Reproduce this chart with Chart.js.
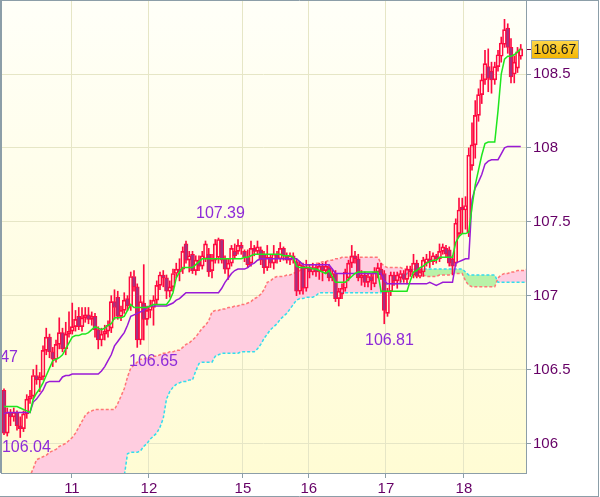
<!DOCTYPE html>
<html>
<head>
<meta charset="utf-8">
<script src="https://cdn.jsdelivr.net/npm/chart.js@4.4.1/dist/chart.umd.min.js"></script>
<style>
html,body{margin:0;padding:0;background:#fff;}
canvas{display:block;}
</style>
</head>
<body>
<canvas id="c" width="600" height="497"></canvas>
<script>
// ---- DATA ----
const dayLabels = ['11','12','15','16','17','18'];
const dayTickPos = [20.9, 44.6, 73.5, 93.8, 117.5, 141.5]; // bar-index positions of day starts
const yTickValues = [106, 106.5, 107, 107.5, 108, 108.5];
const lastPrice = 108.67;

const opens = [
106.36,106.07,106.21,106.18,106.21,106.12,106.10,106.20,106.30,106.32,
106.46,106.43,106.45,106.63,106.72,106.62,106.57,106.67,106.75,106.64,
106.74,106.76,106.79,106.86,106.79,106.85,106.87,106.84,106.86,106.77,
106.70,106.74,106.76,106.78,106.96,106.99,106.86,106.90,106.98,106.93,
107.13,107.06,106.70,106.95,106.84,106.90,106.92,106.97,107.07,107.14,
107.12,107.03,107.06,107.15,107.18,107.18,107.35,107.24,107.28,107.17,
107.24,107.20,107.25,107.28,107.17,107.24,107.26,107.38,107.25,107.18,
107.22,107.30,107.30,107.34,107.30,107.26,107.22,107.32,107.30,107.31,
107.28,107.19,107.26,107.22,107.28,107.25,107.32,107.27,107.24,107.27,
107.23,107.03,107.20,107.05,107.19,107.16,107.19,107.16,107.20,107.17,
107.19,107.12,107.15,106.98,107.01,107.05,107.12,107.22,107.27,107.25,
107.12,107.14,107.09,107.13,107.08,107.16,107.18,107.15,106.88,107.03,
107.14,107.10,107.12,107.15,107.11,107.18,107.14,107.22,107.13,107.16,
107.22,107.25,107.23,107.27,107.25,107.30,107.32,107.31,107.25,107.22,
107.42,107.60,107.58,107.43,107.88,108.02,108.22,108.36,108.46,108.55,
108.52,108.46,108.55,108.62,108.70,108.81,108.68,108.50,108.54,108.62];
const highs = [
106.37,106.24,106.23,106.24,106.22,106.18,106.22,106.33,106.36,106.50,
106.53,106.48,106.66,106.78,106.74,106.65,106.70,106.85,106.78,106.82,
106.89,106.95,106.90,106.92,106.92,106.92,106.92,106.89,106.88,106.79,
106.78,106.80,106.83,107.00,107.04,107.03,106.93,107.02,107.00,107.16,
107.17,107.08,107.00,107.21,106.93,106.97,107.00,107.10,107.16,107.17,
107.14,107.10,107.18,107.22,107.25,107.33,107.37,107.30,107.30,107.27,
107.27,107.30,107.37,107.32,107.28,107.38,107.39,107.38,107.27,107.25,
107.34,107.35,107.38,107.36,107.31,107.31,107.37,107.34,107.37,107.33,
107.30,107.34,107.28,107.34,107.30,107.36,107.33,107.29,107.29,107.29,
107.25,107.23,107.22,107.24,107.21,107.22,107.21,107.22,107.22,107.23,
107.21,107.18,107.17,107.05,107.08,107.18,107.24,107.34,107.30,107.28,
107.17,107.16,107.15,107.15,107.19,107.22,107.22,107.17,107.05,107.16,
107.16,107.16,107.17,107.17,107.20,107.20,107.28,107.24,107.18,107.26,
107.28,107.30,107.29,107.28,107.35,107.35,107.34,107.33,107.27,107.52,
107.66,107.66,107.67,108.00,108.17,108.32,108.40,108.50,108.66,108.67,
108.58,108.58,108.66,108.75,108.87,108.84,108.74,108.62,108.68,108.70];
const lows = [
106.06,106.05,106.12,106.15,106.09,106.04,106.08,106.17,106.27,106.30,
106.40,106.35,106.43,106.60,106.58,106.52,106.55,106.64,106.62,106.60,
106.72,106.74,106.76,106.77,106.76,106.82,106.81,106.80,106.72,106.64,
106.66,106.70,106.72,106.75,106.84,106.84,106.83,106.88,106.90,106.90,
107.03,106.65,106.67,106.70,106.80,106.85,106.80,106.94,107.04,107.06,
106.98,106.99,107.03,107.12,107.10,107.15,107.22,107.16,107.15,107.14,
107.17,107.18,107.23,107.13,107.12,107.22,107.22,107.22,107.15,107.11,
107.20,107.25,107.28,107.28,107.23,107.19,107.20,107.27,107.28,107.21,
107.15,107.17,107.19,107.18,107.22,107.23,107.24,107.22,107.21,107.22,
107.00,107.01,107.01,107.03,107.12,107.14,107.13,107.11,107.10,107.15,
107.10,107.10,106.96,106.93,106.98,107.03,107.10,107.19,107.22,107.10,
107.07,107.06,107.06,107.04,107.06,107.12,107.11,106.81,106.86,107.00,
107.07,107.05,107.09,107.09,107.08,107.13,107.12,107.12,107.12,107.13,
107.20,107.19,107.21,107.22,107.23,107.28,107.26,107.20,107.14,107.20,
107.40,107.42,107.45,107.40,107.85,107.93,108.18,108.30,108.43,108.38,
108.37,108.43,108.52,108.58,108.68,108.64,108.44,108.44,108.51,108.60];
const closes = [
106.07,106.21,106.18,106.21,106.12,106.10,106.20,106.30,106.32,106.46,
106.43,106.45,106.63,106.72,106.62,106.57,106.67,106.75,106.64,106.74,
106.76,106.79,106.84,106.79,106.85,106.87,106.84,106.86,106.77,106.70,
106.74,106.76,106.80,106.96,106.92,106.86,106.90,106.97,106.93,107.13,
107.06,106.70,106.96,106.84,106.90,106.93,106.97,107.07,107.14,107.12,
107.03,107.06,107.15,107.18,107.16,107.30,107.24,107.27,107.17,107.24,
107.20,107.27,107.35,107.16,107.24,107.35,107.38,107.24,107.18,107.22,
107.32,107.27,107.34,107.32,107.26,107.21,107.32,107.30,107.33,107.24,
107.19,107.26,107.22,107.28,107.25,107.32,107.27,107.24,107.27,107.25,
107.03,107.21,107.05,107.19,107.16,107.19,107.16,107.20,107.17,107.20,
107.12,107.15,106.98,107.03,107.05,107.16,107.22,107.27,107.25,107.12,
107.14,107.09,107.13,107.10,107.16,107.19,107.14,106.90,107.03,107.14,
107.10,107.14,107.15,107.11,107.18,107.16,107.22,107.13,107.16,107.24,
107.25,107.23,107.27,107.25,107.30,107.33,107.28,107.22,107.20,107.49,
107.58,107.58,107.61,107.95,108.02,108.22,108.36,108.46,108.57,108.47,
108.46,108.55,108.63,108.71,108.80,108.68,108.48,108.58,108.65,108.67];

const tenkan = [
106.25,106.25,106.25,106.25,106.25,106.24,106.23,106.22,106.21,106.30,
106.34,106.37,106.41,106.46,106.51,106.56,106.57,106.58,106.60,106.64,
106.68,106.72,106.73,106.73,106.74,106.74,106.75,106.77,106.79,106.78,
106.77,106.78,106.80,106.81,106.85,106.85,106.85,106.86,106.90,106.94,
106.92,106.92,106.92,106.92,106.92,106.93,106.94,106.94,106.94,106.94,
106.94,106.97,107.02,107.12,107.16,107.19,107.19,107.19,107.19,107.21,
107.23,107.25,107.25,107.25,107.25,107.25,107.25,107.25,107.25,107.25,
107.25,107.25,107.25,107.25,107.26,107.26,107.27,107.28,107.28,107.28,
107.28,107.28,107.28,107.28,107.28,107.28,107.27,107.27,107.27,107.26,
107.20,107.19,107.19,107.19,107.19,107.18,107.18,107.17,107.16,107.15,
107.17,107.13,107.09,107.09,107.09,107.09,107.11,107.13,107.15,107.16,
107.16,107.16,107.16,107.16,107.16,107.16,107.03,107.03,107.03,107.03,
107.03,107.03,107.03,107.03,107.03,107.10,107.16,107.17,107.19,107.20,
107.22,107.23,107.24,107.24,107.26,107.26,107.26,107.26,107.26,107.36,
107.40,107.42,107.42,107.43,107.60,107.75,107.85,107.95,108.03,108.04,
108.04,108.04,108.25,108.50,108.60,108.62,108.62,108.63,108.65,108.67];

const kijun = [
106.20,106.21,106.21,106.21,106.21,106.21,106.21,106.21,106.21,106.28,
106.30,106.33,106.36,106.41,106.42,106.42,106.42,106.42,106.45,106.46,
106.46,106.47,106.47,106.47,106.47,106.47,106.47,106.47,106.47,106.47,
106.49,106.52,106.56,106.60,106.66,106.69,106.72,106.75,106.80,106.86,
106.87,106.88,106.89,106.90,106.92,106.93,106.93,106.93,106.93,106.93,
106.93,106.94,106.95,106.97,106.98,107.00,107.02,107.02,107.02,107.02,
107.02,107.02,107.02,107.02,107.02,107.02,107.02,107.05,107.09,107.12,
107.15,107.17,107.18,107.18,107.18,107.19,107.21,107.22,107.24,107.25,
107.25,107.25,107.25,107.25,107.25,107.25,107.25,107.25,107.25,107.25,
107.25,107.23,107.21,107.21,107.21,107.21,107.21,107.21,107.21,107.21,
107.21,107.18,107.15,107.15,107.15,107.15,107.15,107.15,107.15,107.15,
107.15,107.15,107.15,107.15,107.15,107.15,107.15,107.10,107.08,107.08,
107.08,107.08,107.08,107.08,107.08,107.08,107.08,107.08,107.08,107.08,
107.08,107.09,107.08,107.07,107.08,107.09,107.09,107.09,107.09,107.22,
107.23,107.24,107.25,107.25,107.65,107.73,107.77,107.82,107.89,107.91,
107.92,107.92,107.92,107.96,108.00,108.01,108.01,108.01,108.01,108.01];

const spanA = [
105.40,105.45,105.50,105.55,105.60,105.65,105.70,105.74,105.78,105.83,
105.89,105.90,105.91,105.92,105.94,105.95,105.96,105.98,105.99,106.00,
106.02,106.04,106.07,106.11,106.15,106.19,106.21,106.22,106.23,106.23,
106.23,106.23,106.23,106.23,106.23,106.27,106.32,106.37,106.45,106.51,
106.53,106.55,106.57,106.57,106.58,106.58,106.59,106.59,106.60,106.61,
106.61,106.62,106.62,106.63,106.63,106.65,106.67,106.68,106.70,106.72,
106.75,106.78,106.80,106.83,106.89,106.90,106.90,106.91,106.91,106.92,
106.92,106.93,106.93,106.94,106.94,106.95,106.96,106.98,106.99,107.01,
107.04,107.09,107.10,107.12,107.13,107.13,107.13,107.14,107.14,107.15,
107.16,107.17,107.19,107.20,107.21,107.21,107.22,107.22,107.23,107.23,
107.24,107.24,107.25,107.25,107.26,107.26,107.26,107.26,107.26,107.26,
107.26,107.26,107.26,107.26,107.26,107.26,107.22,107.20,107.19,107.19,
107.19,107.19,107.19,107.18,107.18,107.17,107.17,107.16,107.16,107.14,
107.13,107.13,107.13,107.13,107.14,107.14,107.14,107.14,107.15,107.15,
107.15,107.15,107.10,107.07,107.06,107.06,107.06,107.06,107.06,107.06,
107.06,107.06,107.12,107.14,107.15,107.15,107.16,107.16,107.17,107.17,
107.17,107.18];

const spanB = [
105.50,105.50,105.50,105.50,105.50,105.50,105.50,105.50,105.50,105.50,
105.50,105.50,105.50,105.50,105.50,105.50,105.50,105.50,105.50,105.50,
105.50,105.50,105.50,105.50,105.50,105.50,105.50,105.50,105.50,105.50,
105.50,105.50,105.50,105.50,105.50,105.50,105.50,105.78,105.93,105.94,
105.94,105.94,105.95,105.98,106.00,106.03,106.05,106.07,106.11,106.17,
106.30,106.35,106.38,106.40,106.41,106.42,106.42,106.43,106.43,106.49,
106.54,106.55,106.55,106.55,106.55,106.59,106.60,106.61,106.61,106.61,
106.61,106.61,106.61,106.62,106.62,106.62,106.62,106.62,106.64,106.67,
106.71,106.74,106.77,106.79,106.81,106.84,106.86,106.88,106.91,106.94,
106.97,106.98,106.98,106.99,106.99,106.99,107.00,107.02,107.02,107.02,
107.02,107.02,107.02,107.02,107.02,107.02,107.02,107.02,107.02,107.02,
107.02,107.02,107.02,107.02,107.02,107.02,107.02,107.07,107.08,107.08,
107.08,107.08,107.09,107.12,107.15,107.17,107.18,107.18,107.18,107.18,
107.18,107.18,107.18,107.18,107.18,107.18,107.18,107.18,107.18,107.18,
107.18,107.18,107.16,107.14,107.14,107.14,107.14,107.14,107.14,107.14,
107.14,107.14,107.09,107.09,107.09,107.09,107.09,107.09,107.09,107.09,
107.09,107.09];

// swing labels: [text, barIndex, price, align]
const swingLabels = [
  ['106.47', 4.3, 106.582, 'right'],
  ['106.04', 6.9, 105.973, 'center'],
  ['106.65', 46.0, 106.551, 'center'],
  ['107.39', 66.6, 107.553, 'center'],
  ['106.81', 118.6, 106.694, 'center']
];

// ---- STYLE ----
const RED = '#ff0a40';
const DOWN_FILL = '#a8307f';
const AXIS_FONT = "'Liberation Sans', Arial, sans-serif";
const LABEL_FONT = "'Liberation Sans', Arial, sans-serif";
const BORDER = '#8c9ea8';

const idx = closes.map((_, i) => i);
const wickUp = idx.map(i => ({x: i, y: [Math.max(opens[i], closes[i]), highs[i]]}));
const wickDn = idx.map(i => ({x: i, y: [lows[i], Math.min(opens[i], closes[i])]}));
const bodies = idx.map(i => ({x: i, y: [Math.min(opens[i], closes[i]), Math.max(opens[i], closes[i])]}));
const bodyFill = idx.map(i => closes[i] < opens[i] ? DOWN_FILL : 'rgba(0,0,0,0)');

const bgPlugin = {
  id: 'bg',
  beforeDraw(chart) {
    const {ctx, chartArea: a} = chart;
    ctx.save();
    ctx.fillStyle = '#ffffff';
    ctx.fillRect(0, 0, chart.width, chart.height);
    const g = ctx.createLinearGradient(0, a.top, 0, a.bottom);
    g.addColorStop(0, '#fffff8');
    g.addColorStop(1, '#fffcd4');
    ctx.fillStyle = g;
    ctx.fillRect(a.left, a.top, a.right - a.left, a.bottom - a.top);
    ctx.restore();
  }
};

const labelPlugin = {
  id: 'swing',
  afterDatasetsDraw(chart) {
    const {ctx, scales: {x, y}, chartArea: a} = chart;
    ctx.save();
    ctx.beginPath();
    ctx.rect(a.left, a.top, a.right - a.left, a.bottom - a.top);
    ctx.clip();
    ctx.font = '16px ' + LABEL_FONT;
    ctx.fillStyle = '#8e2bd8';
    ctx.textBaseline = 'middle';
    swingLabels.forEach(([t, i, v, al]) => {
      ctx.textAlign = al;
      ctx.fillText(t, x.getPixelForValue(i), y.getPixelForValue(v));
    });
    ctx.restore();
  }
};

const pricePlugin = {
  id: 'price',
  afterDraw(chart) {
    const {ctx, scales: {y}, chartArea: a} = chart;
    const py = Math.round(y.getPixelForValue(lastPrice));
    ctx.save();
    ctx.strokeStyle = '#700040';
    ctx.lineWidth = 1;
    ctx.beginPath();
    ctx.moveTo(a.right + 1, py + 0.5);
    ctx.lineTo(a.right + 6, py + 0.5);
    ctx.stroke();
    const bx = 531, bw = 48, bh = 19, by = py - 9;
    const g = ctx.createLinearGradient(0, by, 0, by + bh);
    g.addColorStop(0, '#ffd84a');
    g.addColorStop(1, '#f2b400');
    ctx.fillStyle = g;
    ctx.fillRect(bx, by, bw, bh);
    ctx.strokeStyle = '#98a8b4';
    ctx.strokeRect(bx + 0.5, by + 0.5, bw - 1, bh - 1);
    ctx.fillStyle = '#1a1a1a';
    ctx.font = '14px ' + AXIS_FONT;
    ctx.textAlign = 'center';
    ctx.textBaseline = 'middle';
    ctx.fillText(lastPrice.toFixed(2), bx + bw / 2, py + 1);
    // outer frame
    ctx.strokeStyle = BORDER;
    ctx.beginPath();
    ctx.moveTo(0.5, 0); ctx.lineTo(0.5, a.bottom);
    ctx.moveTo(1.5, 0); ctx.lineTo(1.5, a.bottom);
    ctx.moveTo(0, 0.5); ctx.lineTo(599, 0.5);
    ctx.moveTo(598.5, 0); ctx.lineTo(598.5, 497);
    ctx.moveTo(0, 496.5); ctx.lineTo(599, 496.5);
    ctx.stroke();
    ctx.restore();
  }
};

const lineBase = {type: 'line', pointRadius: 0, tension: 0};

new Chart(document.getElementById('c'), {
  type: 'bar',
  data: {
    datasets: [
      Object.assign({}, lineBase, {
        label: 'spanA', data: spanA.map((v, i) => ({x: i, y: v})),
        borderColor: '#ff7676', borderWidth: 1.5, borderDash: [3, 2],
        fill: {target: 1, above: '#ffcde0', below: '#b9f2a8'}, order: 10
      }),
      Object.assign({}, lineBase, {
        label: 'spanB', data: spanB.map((v, i) => ({x: i, y: v})),
        borderColor: '#33dcee', borderWidth: 1.5, borderDash: [3, 2],
        fill: false, order: 9
      }),
      {type: 'bar', label: 'wickUp', data: wickUp, backgroundColor: RED, barThickness: 1, grouped: false, order: 6},
      {type: 'bar', label: 'wickDn', data: wickDn, backgroundColor: RED, barThickness: 1, grouped: false, order: 6},
      {type: 'bar', label: 'body', data: bodies, backgroundColor: bodyFill, borderColor: RED, borderWidth: 1,
        borderSkipped: false, barThickness: 4, grouped: false, order: 5},
      Object.assign({}, lineBase, {
        label: 'kijun', data: kijun.map((v, i) => ({x: i, y: v})),
        borderColor: '#9a1ad6', borderWidth: 1.5, fill: false, order: 2
      }),
      Object.assign({}, lineBase, {
        label: 'tenkan', data: tenkan.map((v, i) => ({x: i, y: v})),
        borderColor: '#1ee61e', borderWidth: 1.5, fill: false, order: 1
      })
    ]
  },
  options: {
    responsive: false,
    devicePixelRatio: 1,
    animation: false,
    events: [],
    layout: {padding: {left: 1, top: 1, right: 0, bottom: 0}},
    plugins: {legend: {display: false}, tooltip: {enabled: false}, filler: {propagate: false}},
    scales: {
      x: {
        type: 'linear', min: -0.923, max: 160.615, offset: false,
        afterBuildTicks: s => { s.ticks = dayTickPos.map(v => ({value: v})); },
        afterFit: s => { s.height = 24; s.paddingLeft = 0; s.paddingRight = 0; },
        ticks: {
          autoSkip: false, maxRotation: 0, padding: 2, color: '#660066',
          font: {family: AXIS_FONT, size: 15},
          callback: (v, i) => dayLabels[i]
        },
        grid: {offset: false, color: '#e6e6c6', tickColor: BORDER, tickLength: 5, lineWidth: 1},
        border: {color: BORDER, width: 1}
      },
      y: {
        position: 'right', min: 105.80, max: 108.994,
        afterBuildTicks: s => { s.ticks = yTickValues.map(v => ({value: v})); },
        afterFit: s => { s.width = 74; s.paddingTop = 0; s.paddingBottom = 0; },
        ticks: {
          padding: 2, color: '#660066',
          font: {family: AXIS_FONT, size: 15},
          callback: v => String(v)
        },
        grid: {offset: false, color: '#e6e6c6', tickColor: BORDER, tickLength: 5, lineWidth: 1},
        border: {color: BORDER, width: 1}
      }
    }
  },
  plugins: [bgPlugin, labelPlugin, pricePlugin]
});
</script>
</body>
</html>
